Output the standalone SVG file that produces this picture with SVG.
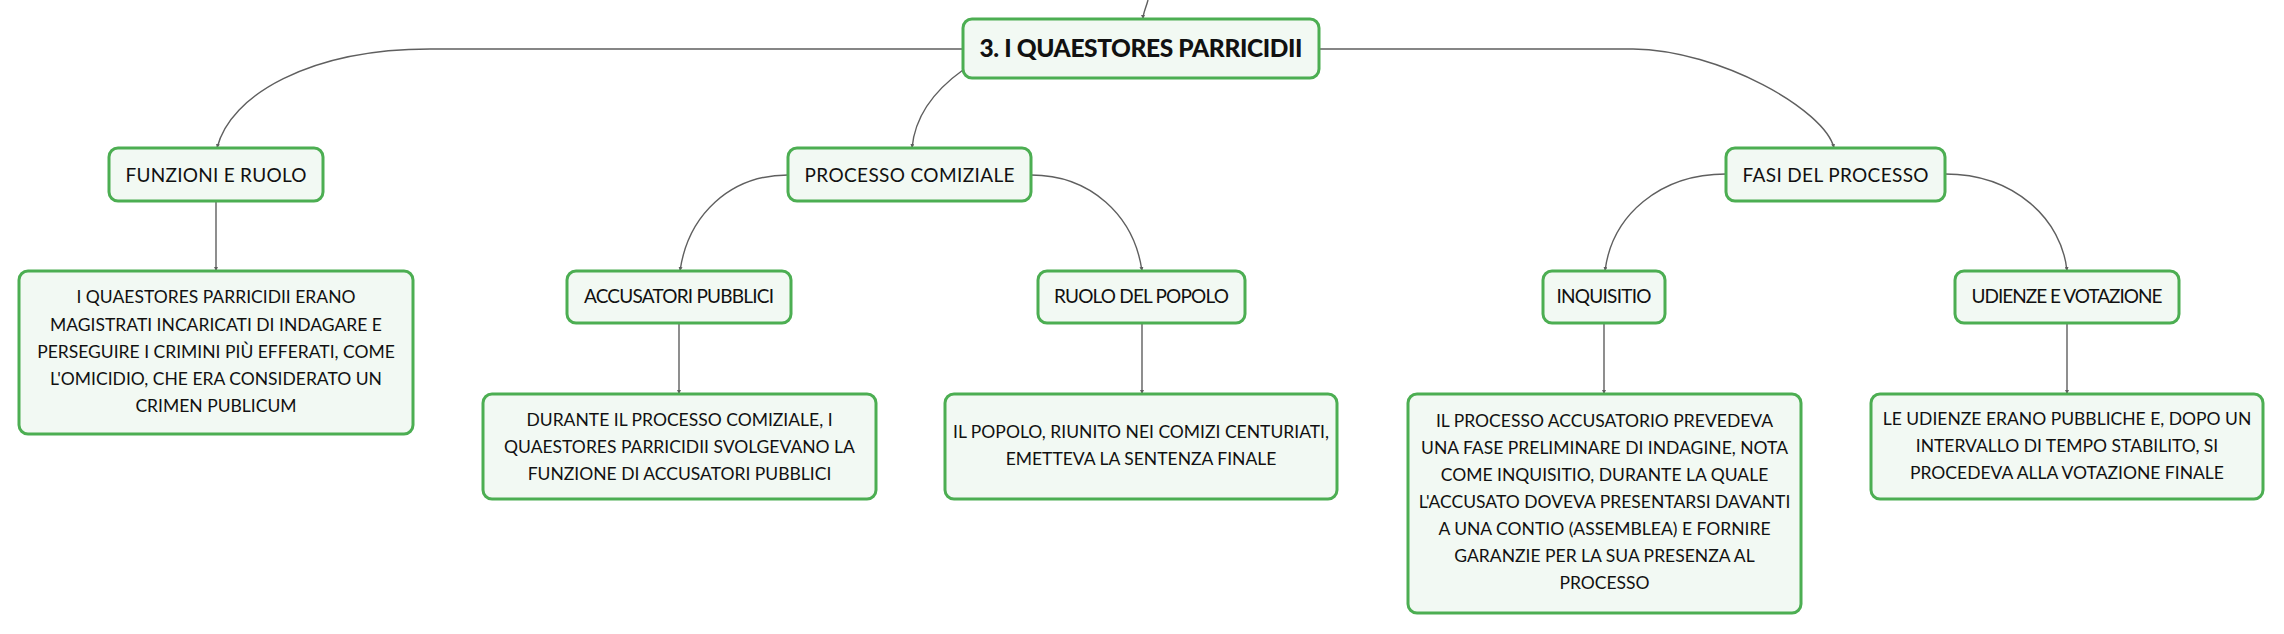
<svg xmlns="http://www.w3.org/2000/svg" width="2284" height="634" viewBox="0 0 2284 634">
<defs>
<style>
.box{fill:#f2f9f3;stroke:#4cae52;stroke-width:3}
.t{font-family:Lato,"Open Sans","Noto Sans",sans-serif;font-size:19px;fill:#111;text-anchor:middle}
.b{font-family:Lato,"Open Sans","Noto Sans",sans-serif;font-size:17.5px;fill:#111;text-anchor:middle}
.title{font-family:Lato,"Open Sans","Noto Sans",sans-serif;font-size:24.5px;font-weight:900;fill:#111;text-anchor:middle}
.c{fill:none;stroke:#5f5f5f;stroke-width:1.4}
</style>
<marker id="ah" viewBox="0 0 6 6" refX="6" refY="3" markerWidth="4" markerHeight="4" orient="auto" markerUnits="userSpaceOnUse">
<path d="M0,0 L6,3 L0,6 z" fill="#5f5f5f"/>
</marker>
</defs>
<rect width="2284" height="634" fill="#ffffff"/>
<g id="connectors">
<path class="c" d="M1148,0 C1146,8 1143,13 1143,19" marker-end="url(#ah)"/>
<path class="c" d="M963,49 L430,49 C310,49 230,95 217,148" marker-end="url(#ah)"/>
<path class="c" d="M963,70 C935,90 915,115 912,148" marker-end="url(#ah)"/>
<path class="c" d="M1319,49 L1633,49 C1720,50 1825,110 1834,148" marker-end="url(#ah)"/>
<path class="c" d="M216,201 L216,271" marker-end="url(#ah)"/>
<path class="c" d="M788,175 C730,175 688,215 680,271" marker-end="url(#ah)"/>
<path class="c" d="M1031,175 C1090,175 1134,215 1142,271" marker-end="url(#ah)"/>
<path class="c" d="M679,323 L679,394" marker-end="url(#ah)"/>
<path class="c" d="M1142,323 L1142,394" marker-end="url(#ah)"/>
<path class="c" d="M1726,174 C1660,174 1612,215 1605,271" marker-end="url(#ah)"/>
<path class="c" d="M1945,174 C2015,174 2062,220 2067,271" marker-end="url(#ah)"/>
<path class="c" d="M1604,323 L1604,394" marker-end="url(#ah)"/>
<path class="c" d="M2067,323 L2067,394" marker-end="url(#ah)"/>
</g>
<g id="title">
<rect class="box" x="963" y="19" width="356" height="59" rx="9"/>
<text class="title" x="1141" y="57" textLength="323">3. I QUAESTORES PARRICIDII</text>
</g>
<g id="funzioni">
<rect class="box" x="109" y="148" width="214" height="53" rx="9"/>
<text class="t" x="216" y="182" textLength="181">FUNZIONI E RUOLO</text>
</g>
<g id="funzioni-desc">
<rect class="box" x="19" y="271" width="394" height="163" rx="9"/>
<text class="b" x="216" y="303">I QUAESTORES PARRICIDII ERANO</text>
<text class="b" x="216" y="331">MAGISTRATI INCARICATI DI INDAGARE E</text>
<text class="b" x="216" y="358">PERSEGUIRE I CRIMINI PIÙ EFFERATI, COME</text>
<text class="b" x="216" y="385">L'OMICIDIO, CHE ERA CONSIDERATO UN</text>
<text class="b" x="216" y="412">CRIMEN PUBLICUM</text>
</g>
<g id="processo">
<rect class="box" x="788" y="148" width="243" height="53" rx="9"/>
<text class="t" x="909.5" y="182" textLength="210">PROCESSO COMIZIALE</text>
</g>
<g id="accusatori">
<rect class="box" x="567" y="271" width="224" height="52" rx="9"/>
<text class="t" x="679" y="303" textLength="190">ACCUSATORI PUBBLICI</text>
</g>
<g id="accusatori-desc">
<rect class="box" x="483" y="394" width="393" height="105" rx="9"/>
<text class="b" x="679.5" y="426">DURANTE IL PROCESSO COMIZIALE, I</text>
<text class="b" x="679.5" y="453">QUAESTORES PARRICIDII SVOLGEVANO LA</text>
<text class="b" x="679.5" y="480">FUNZIONE DI ACCUSATORI PUBBLICI</text>
</g>
<g id="ruolo">
<rect class="box" x="1038" y="271" width="207" height="52" rx="9"/>
<text class="t" x="1141.5" y="303" textLength="175">RUOLO DEL POPOLO</text>
</g>
<g id="ruolo-desc">
<rect class="box" x="945" y="394" width="392" height="105" rx="9"/>
<text class="b" x="1141" y="438">IL POPOLO, RIUNITO NEI COMIZI CENTURIATI,</text>
<text class="b" x="1141" y="465">EMETTEVA LA SENTENZA FINALE</text>
</g>
<g id="fasi">
<rect class="box" x="1726" y="148" width="219" height="53" rx="9"/>
<text class="t" x="1835.5" y="182" textLength="186">FASI DEL PROCESSO</text>
</g>
<g id="inquisitio">
<rect class="box" x="1543" y="271" width="122" height="52" rx="9"/>
<text class="t" x="1604" y="303" textLength="95">INQUISITIO</text>
</g>
<g id="inquisitio-desc">
<rect class="box" x="1408" y="394" width="393" height="219" rx="9"/>
<text class="b" x="1604.5" y="427">IL PROCESSO ACCUSATORIO PREVEDEVA</text>
<text class="b" x="1604.5" y="454">UNA FASE PRELIMINARE DI INDAGINE, NOTA</text>
<text class="b" x="1604.5" y="481">COME INQUISITIO, DURANTE LA QUALE</text>
<text class="b" x="1604.5" y="508">L'ACCUSATO DOVEVA PRESENTARSI DAVANTI</text>
<text class="b" x="1604.5" y="535">A UNA CONTIO (ASSEMBLEA) E FORNIRE</text>
<text class="b" x="1604.5" y="562">GARANZIE PER LA SUA PRESENZA AL</text>
<text class="b" x="1604.5" y="589">PROCESSO</text>
</g>
<g id="udienze">
<rect class="box" x="1955" y="271" width="224" height="52" rx="9"/>
<text class="t" x="2067" y="303" textLength="191">UDIENZE E VOTAZIONE</text>
</g>
<g id="udienze-desc">
<rect class="box" x="1871" y="394" width="392" height="105" rx="9"/>
<text class="b" x="2067" y="425">LE UDIENZE ERANO PUBBLICHE E, DOPO UN</text>
<text class="b" x="2067" y="452">INTERVALLO DI TEMPO STABILITO, SI</text>
<text class="b" x="2067" y="479">PROCEDEVA ALLA VOTAZIONE FINALE</text>
</g>
</svg>
